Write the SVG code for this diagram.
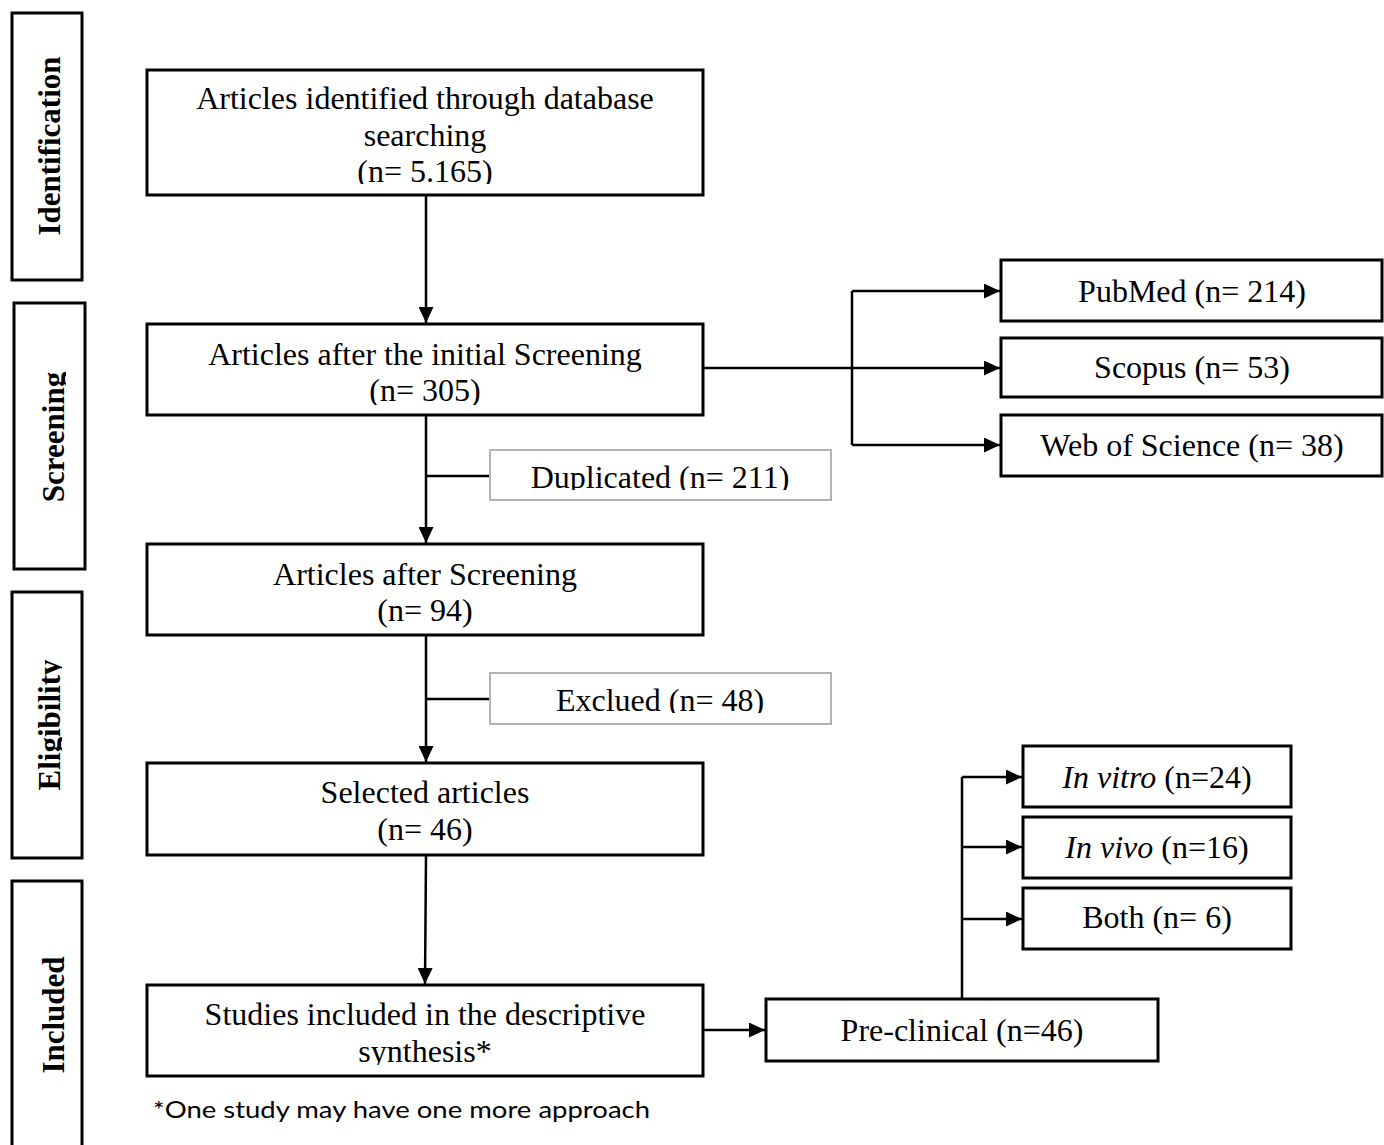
<svg xmlns="http://www.w3.org/2000/svg" width="1384" height="1145" viewBox="0 0 1384 1145">
<style>
.box{fill:#fff;stroke:#000;stroke-width:3}
.gbox{fill:#fff;stroke:#b3b3b3;stroke-width:2}
.side{fill:#fff;stroke:#000;stroke-width:3}
.t{font-family:"Liberation Serif","Times New Roman",serif;font-size:32px;fill:#000;text-anchor:middle}
.s{font-family:"Liberation Serif","Times New Roman",serif;font-size:31px;font-weight:bold;fill:#000;text-anchor:middle}
.note{font-family:Lato,"Open Sans",sans-serif;font-size:24px;fill:#000}
.c{fill:none;stroke:#000;stroke-width:2.5}
</style>
<defs>
<marker id="ah" markerUnits="userSpaceOnUse" markerWidth="16" markerHeight="15" refX="16" refY="7.5" orient="auto">
<path d="M0,0 L16,7.5 L0,15 Z" fill="#000"/>
</marker>
<clipPath id="c1"><rect x="140" y="60" width="600" height="124"/></clipPath>
<clipPath id="c2"><rect x="140" y="320" width="600" height="85"/></clipPath>
<clipPath id="c7"><rect x="140" y="980" width="600" height="85"/></clipPath>
<clipPath id="cd"><rect x="480" y="440" width="360" height="50"/></clipPath>
<clipPath id="ce"><rect x="480" y="660" width="360" height="53"/></clipPath>
<clipPath id="cs"><rect x="0" y="300" width="66" height="280"/></clipPath>
<clipPath id="cel"><rect x="0" y="590" width="62" height="270"/></clipPath>
</defs>

<g id="connectors">
<path class="c" d="M426,195 V323" marker-end="url(#ah)"/>
<path class="c" d="M426,415 V543" marker-end="url(#ah)"/>
<path class="c" d="M426,476 H490"/>
<path class="c" d="M426,635 V762" marker-end="url(#ah)"/>
<path class="c" d="M426,699 H490"/>
<path class="c" d="M426,855 L425,984" marker-end="url(#ah)"/>
<path class="c" d="M703,368 H1000" marker-end="url(#ah)"/>
<path class="c" d="M852,291 V445"/>
<path class="c" d="M852,291 H1000" marker-end="url(#ah)"/>
<path class="c" d="M852,445 H1000" marker-end="url(#ah)"/>
<path class="c" d="M703,1030 H765" marker-end="url(#ah)"/>
<path class="c" d="M962,999 V777"/>
<path class="c" d="M962,777 H1022" marker-end="url(#ah)"/>
<path class="c" d="M962,847 H1022" marker-end="url(#ah)"/>
<path class="c" d="M962,919 H1022" marker-end="url(#ah)"/>
</g>

<g id="stage-identification">
<rect class="side" x="12" y="13" width="70" height="267"/>
<text class="s" transform="translate(60 146) rotate(-90)">Identification</text>
</g>
<g id="stage-screening">
<rect class="side" x="14" y="303" width="71" height="266"/>
<g clip-path="url(#cs)"><text class="s" transform="translate(64 437) rotate(-90)">Screening</text></g>
</g>
<g id="stage-eligibility">
<rect class="side" x="12" y="592" width="70" height="266"/>
<g clip-path="url(#cel)"><text class="s" transform="translate(60 725) rotate(-90)">Eligibility</text></g>
</g>
<g id="stage-included">
<rect class="side" x="12" y="881" width="70" height="300"/>
<text class="s" transform="translate(64 1015) rotate(-90)">Included</text>
</g>

<g id="identified">
<rect class="box" x="147" y="70" width="556" height="125"/>
<text class="t" x="425" y="109">Articles identified through database</text>
<text class="t" x="425" y="146">searching</text>
<g clip-path="url(#c1)"><text class="t" x="425" y="182">(n= 5.165)</text></g>
</g>

<g id="initial-screening">
<rect class="box" x="147" y="324" width="556" height="91"/>
<text class="t" x="425" y="365">Articles after the initial Screening</text>
<g clip-path="url(#c2)"><text class="t" x="425" y="401">(n= 305)</text></g>
</g>

<g id="duplicated">
<rect class="gbox" x="490" y="450" width="341" height="50"/>
<g clip-path="url(#cd)"><text class="t" x="660" y="488">Duplicated (n= 211)</text></g>
</g>

<g id="after-screening">
<rect class="box" x="147" y="544" width="556" height="91"/>
<text class="t" x="425" y="585">Articles after Screening</text>
<text class="t" x="425" y="621">(n= 94)</text>
</g>

<g id="excluded">
<rect class="gbox" x="490" y="673" width="341" height="51"/>
<g clip-path="url(#ce)"><text class="t" x="660" y="711">Exclued (n= 48)</text></g>
</g>

<g id="selected">
<rect class="box" x="147" y="763" width="556" height="92"/>
<text class="t" x="425" y="803">Selected articles</text>
<text class="t" x="425" y="840">(n= 46)</text>
</g>

<g id="included-studies">
<rect class="box" x="147" y="985" width="556" height="91"/>
<text class="t" x="425" y="1025">Studies included in the descriptive</text>
<g clip-path="url(#c7)"><text class="t" x="425" y="1062">synthesis*</text></g>
</g>

<text id="footnote" class="note" x="153" y="1118" textLength="497" lengthAdjust="spacingAndGlyphs">*One study may have one more approach</text>

<g id="pubmed">
<rect class="box" x="1001" y="260" width="381" height="61"/>
<text class="t" x="1192" y="302">PubMed (n= 214)</text>
</g>
<g id="scopus">
<rect class="box" x="1001" y="338" width="381" height="59"/>
<text class="t" x="1192" y="378">Scopus (n= 53)</text>
</g>
<g id="wos">
<rect class="box" x="1001" y="415" width="381" height="61"/>
<text class="t" x="1192" y="456">Web of Science (n= 38)</text>
</g>

<g id="preclinical">
<rect class="box" x="766" y="999" width="392" height="62"/>
<text class="t" x="962" y="1041">Pre-clinical (n=46)</text>
</g>

<g id="invitro">
<rect class="box" x="1023" y="746" width="268" height="61"/>
<text class="t" x="1157" y="788"><tspan font-style="italic">In vitro</tspan> (n=24)</text>
</g>
<g id="invivo">
<rect class="box" x="1023" y="817" width="268" height="61"/>
<text class="t" x="1157" y="858"><tspan font-style="italic">In vivo</tspan> (n=16)</text>
</g>
<g id="both">
<rect class="box" x="1023" y="888" width="268" height="61"/>
<text class="t" x="1157" y="928">Both (n= 6)</text>
</g>
</svg>
